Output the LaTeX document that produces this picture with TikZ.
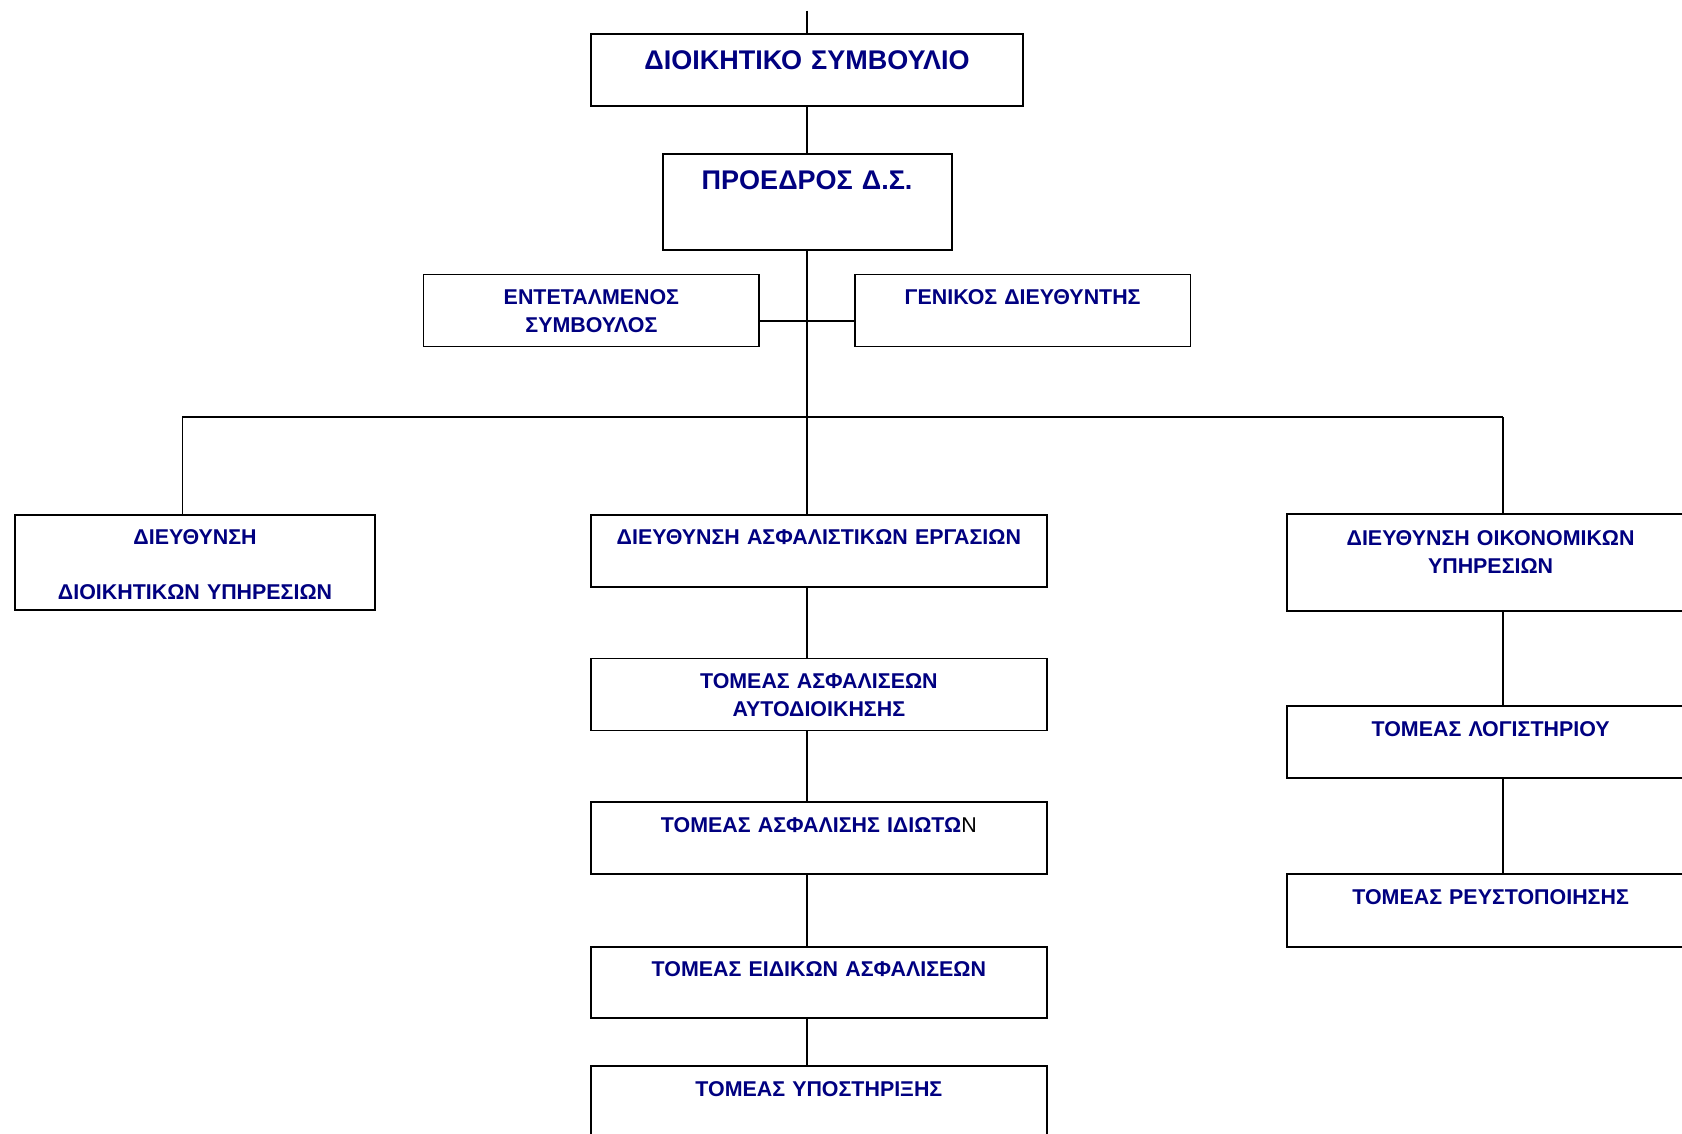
\documentclass[tikz,border=0pt]{standalone}
\usepackage{fontspec}
\setmainfont{Liberation Sans}
\usepackage{tikz}
\usetikzlibrary{calc}
\definecolor{unitblue}{RGB}{0,0,128}
\newcommand{\wire}{1.8pt}
\newcommand{\colw}{455.9pt}
\newcommand{\rightw}{408pt}
\tikzset{
  unit/.style={draw, line width=\wire, inner sep=0pt, anchor=north west, align=center,
    text height=30pt, text depth=42pt, text=unitblue,
    font=\bfseries\fontsize{21.4}{28}\selectfont},
  head/.style={unit, text height=35pt, font=\bfseries\fontsize{27}{32}\selectfont},
}

\begin{document}
\begin{tikzpicture}[x=1pt, y=-1pt, line width=\wire]
\useasboundingbox (0,0) rectangle (1682,1133);
\clip (0,0) rectangle (1682,1133);
%top
\node[head, text width=432.3pt, text depth=36.8pt] (board) at (590,33.3) {ΔΙΟΙΚΗΤΙΚΟ ΣΥΜΒΟΥΛΙΟ};
\node[head, text width=289pt, text depth=61pt] (pres) at (661.7,153.3) {ΠΡΟΕΔΡΟΣ Δ.Σ.};
\node[unit, text width=335.8pt] (deputy) at (422.6,273.5) {ΕΝΤΕΤΑΛΜΕΝΟΣ\\ΣΥΜΒΟΥΛΟΣ};
\node[unit, text width=335.7pt] (gm) at (853.9,273.5) {ΓΕΝΙΚΟΣ ΔΙΕΥΘΥΝΤΗΣ};
%directorates
\node[unit, text width=360.5pt, text depth=65.4pt] (admin) at (13.9,513.8) {ΔΙΕΥΘΥΝΣΗ\\[26.6pt]ΔΙΟΙΚΗΤΙΚΩΝ ΥΠΗΡΕΣΙΩΝ};
\node[unit, text width=\colw] (insur) at (590,513.8) {ΔΙΕΥΘΥΝΣΗ ΑΣΦΑΛΙΣΤΙΚΩΝ ΕΡΓΑΣΙΩΝ};
\node[unit, text width=\rightw, text height=31pt, text depth=65.7pt] (finance) at (1285.7,513.3) {ΔΙΕΥΘΥΝΣΗ ΟΙΚΟΝΟΜΙΚΩΝ\\ΥΠΗΡΕΣΙΩΝ};
%insurance sectors
\node[unit, text width=\colw] (selfgov) at (590,657.6) {ΤΟΜΕΑΣ ΑΣΦΑΛΙΣΕΩΝ\\ΑΥΤΟΔΙΟΙΚΗΣΗΣ};
\node[unit, text width=\colw] (private) at (590,801.3) {ΤΟΜΕΑΣ ΑΣΦΑΛΙΣΗΣ ΙΔΙΩΤΩ\textcolor{black}{\mdseries N}};
\node[unit, text width=\colw, text height=29pt] (special) at (590,946.1) {ΤΟΜΕΑΣ ΕΙΔΙΚΩΝ ΑΣΦΑΛΙΣΕΩΝ};
\node[unit, text width=\colw, text depth=50pt] (support) at (590,1065.2) {ΤΟΜΕΑΣ ΥΠΟΣΤΗΡΙΞΗΣ};
%finance sectors
\node[unit, text width=\rightw, text height=30.7pt, text depth=41.3pt] (ledger) at (1285.7,705.3) {ΤΟΜΕΑΣ ΛΟΓΙΣΤΗΡΙΟΥ};
\node[unit, text width=\rightw, text height=30.7pt, text depth=41.7pt] (liquid) at (1285.7,873.3) {ΤΟΜΕΑΣ ΡΕΥΣΤΟΠΟΙΗΣΗΣ};
%lines
\coordinate (above) at (806.7,10.7);
\coordinate (side) at (806.7,320.7);
\coordinate (hub) at (806.7,417.3);
\coordinate (busL) at (182.4,417.3);
\coordinate (busR) at (1502.9,417.3);
\draw (above) -- (board.north -| above);
\draw (board.south -| above) -- (pres.north -| above);
\draw (pres.south -| above) -- (hub);
\draw (deputy.east |- side) -- (gm.west |- side);
\draw (busL) -- (busR);
\draw (busL) -- (busL |- admin.north);
\draw (hub) -- (hub |- insur.north);
\draw (busR) -- (busR |- finance.north);
\foreach \a/\b in {insur/selfgov, selfgov/private, private/special, special/support}
  \draw (\a.south -| hub) -- (\b.north -| hub);
\foreach \a/\b in {finance/ledger, ledger/liquid}
  \draw (\a.south -| busR) -- (\b.north -| busR);
\end{tikzpicture}
\end{document}
